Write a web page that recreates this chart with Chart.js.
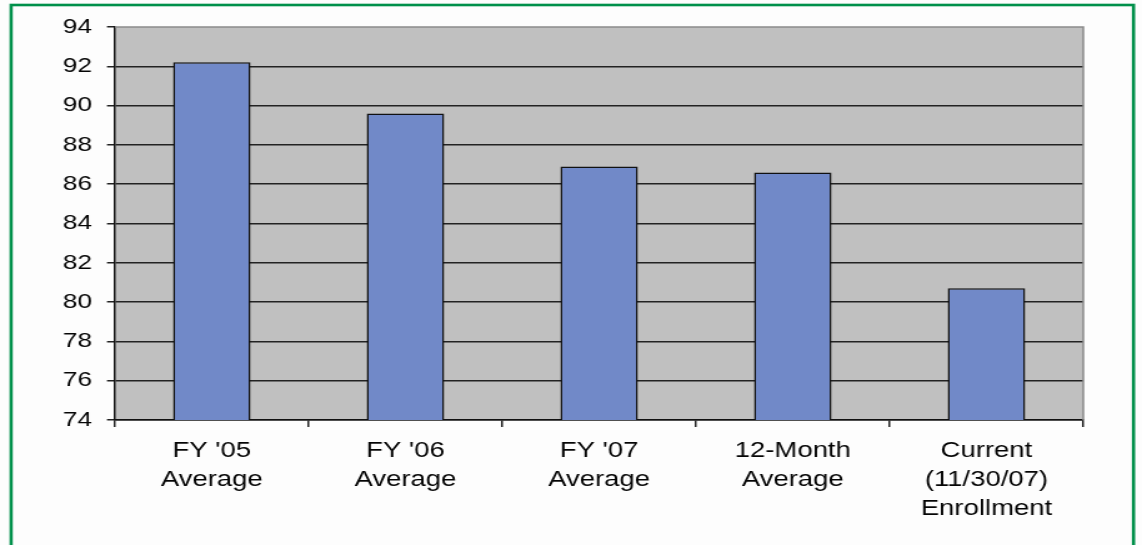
<!DOCTYPE html>
<html>
<head>
<meta charset="utf-8">
<script src="https://cdn.jsdelivr.net/npm/chart.js@4/dist/chart.umd.min.js"></script>
<style>
html,body{margin:0;padding:0;background:#fdfdfd;overflow:hidden;}
canvas{display:block;}
</style>
</head>
<body>
<canvas id="c" width="914" height="545" style="width:1142px;height:545px;"></canvas>
<script>
const categories = [["FY '05","Average"],["FY '06","Average"],["FY '07","Average"],["12-Month","Average"],["Current","(11/30/07)","Enrollment"]];
const enrollment = [92.2, 89.6, 86.9, 86.6, 80.7];
const yMin = 74, yMax = 94, yStep = 2;

const bgPlugin = {
  id: 'bg',
  beforeDraw(chart) {
    const ctx = chart.ctx, a = chart.chartArea;
    ctx.save();
    ctx.fillStyle = '#fdfdfd';
    ctx.fillRect(0, 0, chart.width, chart.height);
    ctx.fillStyle = '#c0c0c0';
    ctx.fillRect(a.left, a.top, a.right - a.left, a.bottom - a.top);
    ctx.restore();
  },
  afterDraw(chart) {
    const ctx = chart.ctx, a = chart.chartArea;
    ctx.save();
    ctx.strokeStyle = '#8a8a8a';
    ctx.lineWidth = 1.5;
    ctx.beginPath();
    ctx.moveTo(a.left, a.top);
    ctx.lineTo(a.right, a.top);
    ctx.lineTo(a.right, a.bottom);
    ctx.stroke();
    ctx.strokeStyle = '#00904a';
    ctx.lineWidth = 2.6;
    ctx.strokeRect(8.9, 5, 898.3, 600);
    ctx.restore();
  }
};

new Chart(document.getElementById('c'), {
  type: 'bar',
  data: {
    labels: categories,
    datasets: [{
      data: enrollment,
      backgroundColor: '#7189c8',
      borderColor: '#111',
      borderWidth: 1.5,
      borderSkipped: false,
      categoryPercentage: 1,
      barPercentage: 0.4
    }]
  },
  options: {
    responsive: false,
    animation: false,
    devicePixelRatio: 1,
    layout: { padding: { top: 27, right: 47, bottom: 0, left: 0 } },
    plugins: { legend: { display: false }, tooltip: { enabled: false } },
    scales: {
      y: {
        min: yMin, max: yMax,
        ticks: { stepSize: yStep, color: '#050505', font: { family: 'Liberation Sans, Arial, sans-serif', size: 21 }, padding: 12 },
        grid: {
          color: ctx => (ctx.tick && ctx.tick.value === yMax) ? 'rgba(0,0,0,0)' : '#222',
          tickColor: '#222',
          lineWidth: 1.5,
          tickLength: 6.4
        },
        border: { color: '#111', width: 1.5 },
        afterFit(scale) { scale.width = 92; }
      },
      x: {
        offset: true,
        ticks: { color: '#050505', font: { family: 'Liberation Sans, Arial, sans-serif', size: 22, lineHeight: 1.3 }, padding: 10, maxRotation: 0 },
        grid: { offset: true, drawOnChartArea: false, color: '#222', lineWidth: 1.5, tickLength: 7 },
        border: { color: '#111', width: 1.5 },
        afterFit(scale) { scale.height = 125; }
      }
    }
  },
  plugins: [bgPlugin]
});
</script>
</body>
</html>
